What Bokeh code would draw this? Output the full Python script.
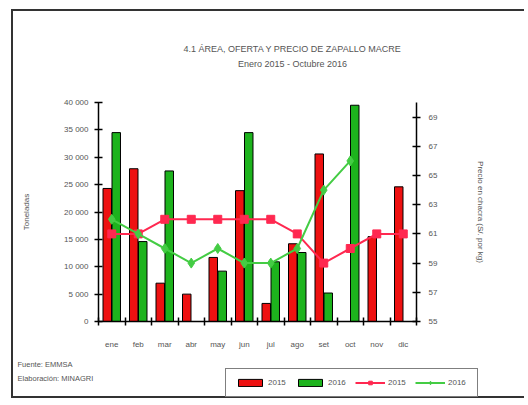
import numpy as np
from bokeh.plotting import figure
from bokeh.layouts import column
from bokeh.models import (Range1d, LinearAxis, FixedTicker, Legend, LegendItem,
                          Label, ColumnDataSource)
from bokeh.embed import file_html
from bokeh.resources import INLINE

# ---------------- data ----------------
months = ["ene", "feb", "mar", "abr", "may", "jun", "jul", "ago", "set", "oct", "nov", "dic"]
oferta_2015 = [24300, 27900, 7000, 5000, 11700, 23900, 3300, 14200, 30600, np.nan, 15500, 24600]
oferta_2016 = [34500, 14600, 27500, 0, 9200, 34500, 10900, 12600, 5200, 39500, np.nan, np.nan]
precio_2015 = [61, 61, 62, 62, 62, 62, 62, 61, 59, 60, 61, 61]
precio_2016 = [62, 61, 60, 59, 60, 59, 59, 60, 64, 66, np.nan, np.nan]
left_ticks = [0, 5000, 10000, 15000, 20000, 25000, 30000, 35000, 40000]
left_labels = ["0", "5 000", "10 000", "15 000", "20 000", "25 000", "30 000", "35 000", "40 000"]
right_ticks = [55, 57, 59, 61, 63, 65, 67, 69]
title_text = "4.1 ÁREA, OFERTA Y PRECIO DE ZAPALLO MACRE"
subtitle_text = "Enero 2015 - Octubre 2016"
left_title = "Toneladas"
right_title = "Precio en chacra (S/. por kg)"
source_lines = ["Fuente: EMMSA", "Elaboración: MINAGRI"]
legend_labels = ["2015", "2016", "2015", "2016"]

FONT = "Liberation Sans"
TXT = "#555555"
RED = "#EE1111"
GREEN = "#1DB31D"
RED_LINE = "#FF2850"
GREEN_LINE = "#44CC44"
BORDER = "2px solid #333333"
W = 513

n = len(months)
centers = [i + 0.5 for i in range(n)]

def bar_src(vals, shift):
    xs = [c + shift for c, v in zip(centers, vals) if not np.isnan(v)]
    ys = [v for v in vals if not np.isnan(v)]
    return ColumnDataSource(dict(x=xs, top=ys))

def no_align(f):
    try:
        f.frame_align = False
    except Exception:
        pass

def blank(height, styles):
    f = figure(width=W, height=height, output_backend="svg", toolbar_location=None,
               x_range=Range1d(0, W), y_range=Range1d(0, height),
               x_axis_location=None, y_axis_location=None, min_border=0)
    f.outline_line_color = None
    f.xgrid.visible = False
    f.ygrid.visible = False
    f.styles = styles
    no_align(f)
    return f

# ---------------- top (titles) ----------------
top = blank(74, {"border-left": BORDER, "border-top": BORDER})
for yy, txt in ((37, title_text), (22, subtitle_text)):
    top.add_layout(Label(x=279, y=yy, text=txt, text_align="center", text_baseline="middle",
                         text_font=FONT, text_font_size="9px", text_color=TXT))

# ---------------- main chart ----------------
p = figure(width=W, height=275, output_backend="svg", toolbar_location=None,
           x_range=Range1d(0, n), y_range=Range1d(0, 40000),
           min_border_left=85, min_border_right=W - 403, min_border_top=19, min_border_bottom=37)
p.styles = {"border-left": BORDER}
no_align(p)
p.outline_line_color = None
p.xgrid.visible = False
p.ygrid.visible = False
p.extra_y_ranges = {"precio": Range1d(55, 70)}

p.vbar(x="x", top="top", width=0.32, bottom=0, source=bar_src(oferta_2015, -0.17),
       fill_color=RED, line_color="black", line_width=1)
p.vbar(x="x", top="top", width=0.32, bottom=0, source=bar_src(oferta_2016, 0.17),
       fill_color=GREEN, line_color="black", line_width=1)
p.line(centers, precio_2015, y_range_name="precio", line_color=RED_LINE, line_width=2)
p.scatter(centers, precio_2015, y_range_name="precio", marker="square", size=8,
          fill_color=RED_LINE, line_color=RED_LINE)
p.line(centers, precio_2016, y_range_name="precio", line_color=GREEN_LINE, line_width=2)
p.scatter(centers, precio_2016, y_range_name="precio", marker="diamond", size=10,
          fill_color=GREEN_LINE, line_color=GREEN_LINE)

def style_axis(ax):
    ax.axis_line_color = "black"
    ax.axis_line_width = 1.5
    ax.major_tick_line_color = "black"
    ax.major_tick_line_width = 1.5
    ax.minor_tick_line_color = "black"
    ax.minor_tick_line_width = 1.5
    ax.major_label_text_font = FONT
    ax.major_label_text_font_size = "8px"
    ax.major_label_text_color = TXT
    ax.axis_label_text_font = FONT
    ax.axis_label_text_font_size = "8px"
    ax.axis_label_text_font_style = "normal"
    ax.axis_label_text_color = TXT

xa = p.xaxis[0]
xa.ticker = FixedTicker(ticks=centers, minor_ticks=list(range(n + 1)))
xa.major_label_overrides = {c: m for c, m in zip(centers, months)}
style_axis(xa)
xa.major_tick_in = 0
xa.major_tick_out = 0
xa.minor_tick_in = 4
xa.minor_tick_out = 4
xa.major_label_standoff = 14

ya = p.yaxis[0]
ya.ticker = FixedTicker(ticks=left_ticks)
ya.major_label_overrides = {t: l for t, l in zip(left_ticks, left_labels)}
style_axis(ya)
ya.major_tick_in = 4
ya.major_tick_out = 4
ya.minor_tick_line_color = None
ya.major_label_standoff = 6
ya.axis_label = left_title
ya.axis_label_standoff = 30

ra = LinearAxis(y_range_name="precio", ticker=FixedTicker(ticks=right_ticks))
style_axis(ra)
ra.major_tick_in = 4
ra.major_tick_out = 4
ra.minor_tick_line_color = None
ra.major_label_standoff = 8
ra.axis_label = right_title
ra.axis_label_standoff = 36
p.add_layout(ra, "right")

# ---------------- bottom (source + legend) ----------------
bot = blank(40, {"border-left": BORDER, "border-bottom": BORDER})
for yy, txt in ((34, source_lines[0]), (20, source_lines[1])):
    bot.add_layout(Label(x=4, y=yy, text=txt, text_align="left", text_baseline="middle",
                         text_font=FONT, text_font_size="7.5px", text_color=TXT))

# legend-only renderers (no visible marks)
nan1 = [np.nan]
lb15 = bot.vbar(x=nan1, top=nan1, width=1, fill_color=RED, line_color="black", line_width=1)
lb16 = bot.vbar(x=nan1, top=nan1, width=1, fill_color=GREEN, line_color="black", line_width=1)
ll15 = bot.line(x=nan1, y=nan1, line_color=RED_LINE, line_width=2)
lm15 = bot.scatter(x=nan1, y=nan1, marker="square", size=8, fill_color=RED_LINE, line_color=RED_LINE)
ll16 = bot.line(x=nan1, y=nan1, line_color=GREEN_LINE, line_width=2)
lm16 = bot.scatter(x=nan1, y=nan1, marker="diamond", size=10, fill_color=GREEN_LINE, line_color=GREEN_LINE)

legend = Legend(items=[LegendItem(label=legend_labels[0], renderers=[lb15]),
                       LegendItem(label=legend_labels[1], renderers=[lb16]),
                       LegendItem(label=legend_labels[2], renderers=[ll15, lm15]),
                       LegendItem(label=legend_labels[3], renderers=[ll16, lm16])],
                orientation="horizontal", location=(212, 1))
legend.border_line_color = "black"
legend.border_line_width = 1.5
legend.background_fill_color = "white"
legend.label_text_font = FONT
legend.label_text_font_size = "8px"
legend.label_text_color = TXT
legend.glyph_width = 30
legend.glyph_height = 9
legend.label_standoff = 3
legend.spacing = 7
legend.padding = 9
legend.margin = 0
bot.add_layout(legend, "center")

layout = column(top, p, bot, margin=(9, 0, 0, 11))
open("out.html", "w").write(file_html(layout, INLINE))
